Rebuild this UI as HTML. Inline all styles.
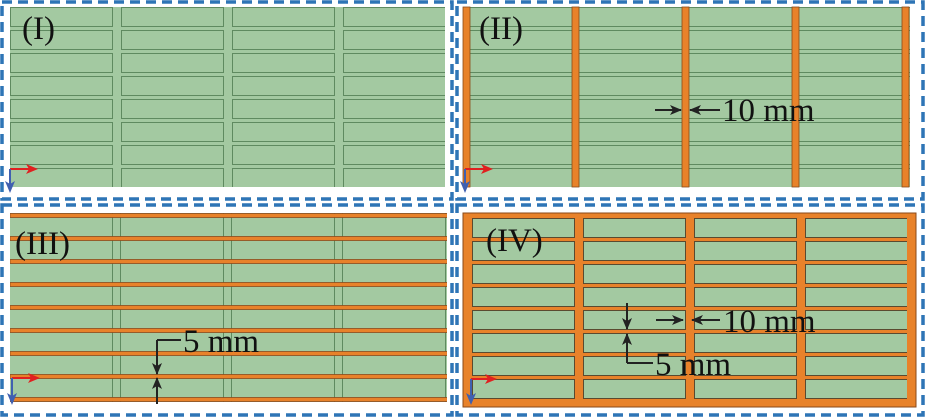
<!DOCTYPE html>
<html><head><style>body{margin:0;background:#fff}svg{display:block}</style></head><body>
<svg width="926" height="418" viewBox="0 0 926 418" xmlns="http://www.w3.org/2000/svg" font-family="Liberation Serif, serif">
<defs>
<pattern id="c1" patternUnits="userSpaceOnUse" x="10" y="7" width="111" height="23">
<rect x="0.5" y="0.5" width="102" height="19" fill="#a3c9a1" stroke="#5f8a60" stroke-width="1"/>
</pattern>
<pattern id="h2" patternUnits="userSpaceOnUse" x="463" y="7" width="500" height="23">
<line x1="0" y1="0.5" x2="500" y2="0.5" stroke="#5f8a60"/>
<line x1="0" y1="19.5" x2="500" y2="19.5" stroke="#5f8a60"/>
</pattern>
<pattern id="v3" patternUnits="userSpaceOnUse" x="10" y="0" width="111" height="500">
<line x1="102.5" y1="0" x2="102.5" y2="500" stroke="#5f8a60"/>
<line x1="110.5" y1="0" x2="110.5" y2="500" stroke="#5f8a60"/>
</pattern>
<pattern id="s3" patternUnits="userSpaceOnUse" x="10" y="213" width="500" height="23">
<rect x="0" y="0.5" width="500" height="4" fill="#e8822a" stroke="#8a4a1a" stroke-width="0.8"/>
</pattern>
<pattern id="c4" patternUnits="userSpaceOnUse" x="472" y="218" width="111" height="23">
<rect x="0.5" y="0.5" width="102" height="19" fill="#a3c9a1" stroke="#5a4a30" stroke-width="1"/>
</pattern>
<marker id="ar" markerWidth="12" markerHeight="10" refX="11" refY="5" orient="auto" markerUnits="userSpaceOnUse"><path d="M0,0 L12,5 L0,10 L3,5z" fill="#222"/></marker>
</defs>

<rect x="10" y="7" width="435" height="180" fill="#a3c9a1"/>
<rect x="10" y="7" width="435" height="180" fill="url(#c1)"/>
<rect x="463" y="7" width="447" height="180" fill="#a3c9a1"/>
<rect x="463" y="7" width="447" height="180" fill="url(#h2)"/>
<g fill="#e8822a" stroke="#8a4a1a" stroke-width="0.8">
<rect x="463" y="7" width="7" height="180"/><rect x="572" y="7" width="7" height="180"/>
<rect x="682" y="7" width="7" height="180"/><rect x="792" y="7" width="7" height="180"/>
<rect x="902" y="7" width="7" height="180"/></g>
<rect x="10" y="213" width="437" height="189" fill="#a3c9a1"/>
<rect x="10" y="213" width="437" height="189" fill="url(#v3)"/>
<rect x="10" y="213" width="437" height="191" fill="url(#s3)"/>
<rect x="463" y="213" width="453" height="194" fill="#e8822a" stroke="#8a4a1a"/>
<rect x="472" y="218" width="435" height="181" fill="url(#c4)"/>

<g fill="none" stroke="#2e75b6" stroke-width="3.5" stroke-dasharray="10,6">
<rect x="2" y="2" width="450" height="197"/><rect x="457" y="2" width="466" height="197"/>
<rect x="2" y="205" width="450" height="210"/><rect x="457" y="205" width="466" height="210"/>
</g>

<g stroke-width="2">
<line x1="10" y1="169" x2="30" y2="169" stroke="#e02020"/><path d="M38,169 l-12,-5 l3,5 l-3,5z" fill="#e02020"/>
<line x1="10" y1="169" x2="10" y2="186" stroke="#4060b0"/><path d="M10,193 l-5,-12 l5,3 l5,-3z" fill="#4060b0"/>
<line x1="465" y1="169" x2="485" y2="169" stroke="#e02020"/><path d="M493,169 l-12,-5 l3,5 l-3,5z" fill="#e02020"/>
<line x1="465" y1="169" x2="465" y2="186" stroke="#4060b0"/><path d="M465,193 l-5,-12 l5,3 l5,-3z" fill="#4060b0"/>
<line x1="12" y1="378" x2="32" y2="378" stroke="#e02020"/><path d="M40,378 l-12,-5 l3,5 l-3,5z" fill="#e02020"/>
<line x1="12" y1="378" x2="12" y2="398" stroke="#4060b0"/><path d="M12,405 l-5,-12 l5,3 l5,-3z" fill="#4060b0"/>
<line x1="471" y1="379" x2="489" y2="379" stroke="#e02020"/><path d="M497,379 l-12,-5 l3,5 l-3,5z" fill="#e02020"/>
<line x1="471" y1="379" x2="471" y2="398" stroke="#4060b0"/><path d="M471,405 l-5,-12 l5,3 l5,-3z" fill="#4060b0"/>
</g>

<g stroke="#222" stroke-width="2" fill="none">
<line x1="655" y1="110" x2="681" y2="110" marker-end="url(#ar)"/>
<line x1="720" y1="110" x2="690" y2="110" marker-end="url(#ar)"/>
<line x1="157" y1="340" x2="157" y2="374" marker-end="url(#ar)"/>
<polyline points="157,340 181,340"/>
<line x1="157" y1="404" x2="157" y2="378" marker-end="url(#ar)"/>
<line x1="627" y1="303" x2="627" y2="329" marker-end="url(#ar)"/>
<line x1="627" y1="363" x2="627" y2="334" marker-end="url(#ar)"/>
<polyline points="627,363 653,363"/>
<line x1="656" y1="320" x2="683" y2="320" marker-end="url(#ar)"/>
<line x1="720" y1="320" x2="692" y2="320" marker-end="url(#ar)"/>
</g>

<g font-size="33" fill="#111">
<text x="22" y="39">(I)</text>
<text x="479" y="39">(II)</text>
<text x="15" y="254">(III)</text>
<text x="486" y="251">(IV)</text>
<text x="722" y="121">10 mm</text>
<text x="183" y="352">5 mm</text>
<text x="723" y="332">10 mm</text>
<text x="655" y="375">5 mm</text>
</g>
</svg>
</body></html>
